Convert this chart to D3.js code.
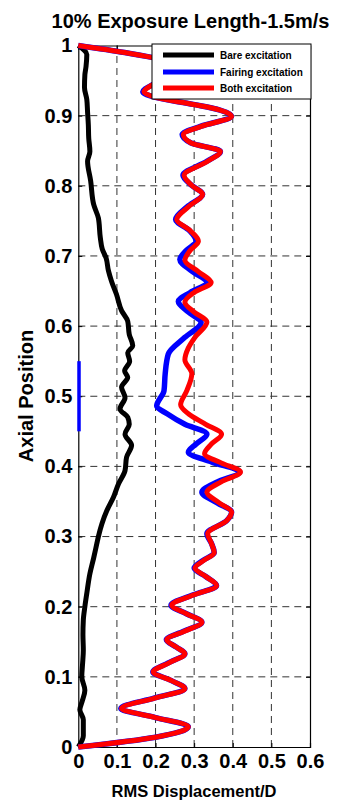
<!DOCTYPE html>
<html><head><meta charset="utf-8">
<script src="https://cdn.jsdelivr.net/npm/d3@7"></script>
<style>
html,body{margin:0;padding:0;background:#fff;}
svg{display:block;font-family:"Liberation Sans",Arial,sans-serif;font-weight:bold;}
</style></head>
<body>
<svg id="c" width="337" height="800"></svg>
<script>
// ---- data (axial position, RMS displacement/D) ----
const title = "10% Exposure Length-1.5m/s";
const xLabel = "RMS Displacement/D";
const yLabel = "Axial Position";
const seriesNames = ["Bare excitation", "Fairing excitation", "Both excitation"];
const seriesColors = ["#000000", "#0000ff", "#ff0000"];
const xTicks = [0, 0.1, 0.2, 0.3, 0.4, 0.5, 0.6];
const yTicks = [0, 0.1, 0.2, 0.3, 0.4, 0.5, 0.6, 0.7, 0.8, 0.9, 1];
const markerRange = [0.45, 0.55];

const bareY = [1.000,0.987,0.970,0.958,0.940,0.923,0.905,0.887,0.868,0.849,0.835,0.807,0.773,0.754,0.726,0.710,0.697,0.679,0.664,0.645,0.622,0.607,0.588,0.572,0.562,0.550,0.536,0.527,0.513,0.498,0.482,0.470,0.460,0.446,0.430,0.413,0.394,0.375,0.356,0.337,0.318,0.300,0.290,0.270,0.247,0.219,0.200,0.181,0.160,0.138,0.118,0.100,0.081,0.065,0.053,0.039,0.016,0.000];
const bareX = [0.000,0.022,0.020,0.017,0.016,0.022,0.024,0.026,0.027,0.030,0.024,0.032,0.040,0.052,0.057,0.062,0.072,0.078,0.086,0.099,0.112,0.128,0.132,0.141,0.128,0.133,0.120,0.128,0.112,0.121,0.108,0.128,0.132,0.121,0.138,0.125,0.121,0.104,0.091,0.074,0.061,0.052,0.048,0.040,0.030,0.022,0.017,0.013,0.012,0.013,0.011,0.009,0.017,0.010,0.004,0.013,0.013,0.000];

const bothY = [1.000,0.990,0.983,0.972,0.960,0.945,0.934,0.926,0.916,0.908,0.899,0.885,0.873,0.861,0.849,0.835,0.815,0.800,0.788,0.770,0.752,0.736,0.721,0.708,0.694,0.678,0.662,0.648,0.634,0.620,0.606,0.584,0.569,0.552,0.532,0.508,0.488,0.475,0.460,0.446,0.432,0.418,0.405,0.392,0.378,0.363,0.348,0.335,0.323,0.304,0.290,0.277,0.266,0.255,0.243,0.230,0.217,0.202,0.190,0.178,0.165,0.153,0.142,0.133,0.120,0.107,0.095,0.083,0.070,0.055,0.042,0.029,0.014,0.000];
const bothX = [0.000,0.120,0.190,0.265,0.250,0.195,0.170,0.200,0.298,0.367,0.397,0.320,0.272,0.292,0.368,0.335,0.274,0.295,0.322,0.285,0.255,0.290,0.311,0.290,0.276,0.310,0.344,0.300,0.276,0.300,0.333,0.302,0.285,0.276,0.294,0.281,0.265,0.285,0.330,0.371,0.345,0.327,0.370,0.420,0.370,0.333,0.365,0.397,0.385,0.335,0.345,0.352,0.325,0.302,0.330,0.358,0.300,0.242,0.280,0.320,0.275,0.229,0.255,0.276,0.235,0.194,0.240,0.276,0.200,0.112,0.200,0.285,0.200,0.000];

const fairingY = [1.000,0.990,0.983,0.972,0.960,0.945,0.934,0.926,0.916,0.908,0.899,0.885,0.873,0.861,0.849,0.835,0.815,0.800,0.788,0.770,0.752,0.736,0.721,0.708,0.695,0.678,0.662,0.648,0.635,0.620,0.605,0.584,0.560,0.532,0.508,0.486,0.475,0.460,0.446,0.432,0.420,0.406,0.392,0.378,0.363,0.348,0.335,0.323,0.304,0.290,0.277,0.266,0.255,0.243,0.230,0.217,0.202,0.190,0.178,0.165,0.153,0.142,0.133,0.120,0.107,0.095,0.083,0.070,0.055,0.042,0.029,0.014,0.000];
const fairingX = [0.000,0.120,0.190,0.265,0.250,0.195,0.167,0.200,0.298,0.367,0.397,0.318,0.269,0.292,0.368,0.333,0.271,0.295,0.322,0.282,0.252,0.288,0.305,0.280,0.263,0.295,0.333,0.290,0.259,0.285,0.318,0.276,0.233,0.225,0.222,0.203,0.230,0.276,0.333,0.305,0.285,0.346,0.418,0.360,0.320,0.360,0.397,0.385,0.333,0.345,0.352,0.323,0.300,0.330,0.358,0.298,0.240,0.280,0.320,0.273,0.228,0.255,0.276,0.233,0.193,0.240,0.276,0.198,0.110,0.200,0.285,0.200,0.000];

// ---- layout ----
const svg = d3.select("#c");
const L = 78.3, R = 310, T = 45.5, B = 747;
const x = d3.scaleLinear().domain([0, 0.6]).range([L, R]);
const y = d3.scaleLinear().domain([0, 1]).range([B, T]);
const FONT = "'Liberation Sans', Arial, sans-serif";

// grid
const grid = svg.append("g").attr("stroke", "#333").attr("stroke-width", 1).attr("stroke-dasharray", "7,5");
xTicks.slice(1, -1).forEach(v => grid.append("line").attr("x1", x(v)).attr("x2", x(v)).attr("y1", B).attr("y2", T));
yTicks.slice(1, -1).forEach(v => grid.append("line").attr("x1", L).attr("x2", R).attr("y1", y(v)).attr("y2", y(v)));

// axes
const axB = svg.append("g").attr("transform", `translate(0,${B})`)
  .call(d3.axisBottom(x).tickValues(xTicks).tickSize(-4).tickPadding(7).tickFormat(d => d === 0 ? "0" : d3.format(".1f")(d)));
const axL = svg.append("g").attr("transform", `translate(${L},0)`)
  .call(d3.axisLeft(y).tickValues(yTicks).tickSize(-4).tickPadding(6).tickFormat(d => (d === 0 || d === 1) ? String(d) : d3.format(".1f")(d)));
const axT = svg.append("g").attr("transform", `translate(0,${T})`)
  .call(d3.axisTop(x).tickValues(xTicks).tickSize(-4).tickFormat(""));
const axR = svg.append("g").attr("transform", `translate(${R},0)`)
  .call(d3.axisRight(y).tickValues(yTicks).tickSize(-4).tickFormat(""));
[axB, axL, axT, axR].forEach(a => {
  a.select(".domain").attr("stroke", "#000").attr("stroke-width", 1.2);
  a.selectAll(".tick line").attr("stroke", "#000");
  a.selectAll("text").attr("font-family", FONT).attr("font-weight", "bold").attr("font-size", 20).attr("fill", "#000");
});

// lines
const line = (xs) => d3.line().x((d, i) => x(xs[i])).y(d => y(d)).curve(d3.curveMonotoneY);
const plot = svg.append("g");
plot.append("path").attr("d", line(bareX)(bareY)).attr("fill", "none").attr("stroke", seriesColors[0]).attr("stroke-width", 5).attr("stroke-linejoin", "round");
plot.append("path").attr("d", line(fairingX)(fairingY)).attr("fill", "none").attr("stroke", seriesColors[1]).attr("stroke-width", 5.5).attr("stroke-linejoin", "round");
plot.append("path").attr("d", line(bothX)(bothY)).attr("fill", "none").attr("stroke", seriesColors[2]).attr("stroke-width", 5).attr("stroke-linejoin", "round");

// blue marker on the axis
svg.append("line").attr("x1", L + 0.7).attr("x2", L + 0.7).attr("y1", y(markerRange[0])).attr("y2", y(markerRange[1]))
  .attr("stroke", "#0000ff").attr("stroke-width", 3.5);

// legend
const lg = svg.append("g");
lg.append("rect").attr("x", 152).attr("y", 44).attr("width", 159).attr("height", 55).attr("fill", "#fff").attr("stroke", "#000").attr("stroke-width", 1);
const rowsY = [55, 72, 88];
seriesNames.forEach((n, i) => {
  lg.append("line").attr("x1", 163).attr("x2", 214).attr("y1", rowsY[i]).attr("y2", rowsY[i]).attr("stroke", seriesColors[i]).attr("stroke-width", 5);
  lg.append("text").attr("x", 220).attr("y", rowsY[i]).attr("dy", "0.35em").attr("font-size", 10).attr("font-family", FONT).attr("font-weight", "bold").text(n);
});

// titles
svg.append("text").attr("x", 190.5).attr("y", 28).attr("text-anchor", "middle").attr("font-size", 20).attr("font-family", FONT).attr("font-weight", "bold").text(title);
svg.append("text").attr("x", 194).attr("y", 797).attr("text-anchor", "middle").attr("font-size", 16.5).attr("font-family", FONT).attr("font-weight", "bold").text(xLabel);
svg.append("text").attr("transform", "translate(33,396) rotate(-90)").attr("text-anchor", "middle").attr("font-size", 20).attr("font-family", FONT).attr("font-weight", "bold").text(yLabel);
</script>
</body></html>
